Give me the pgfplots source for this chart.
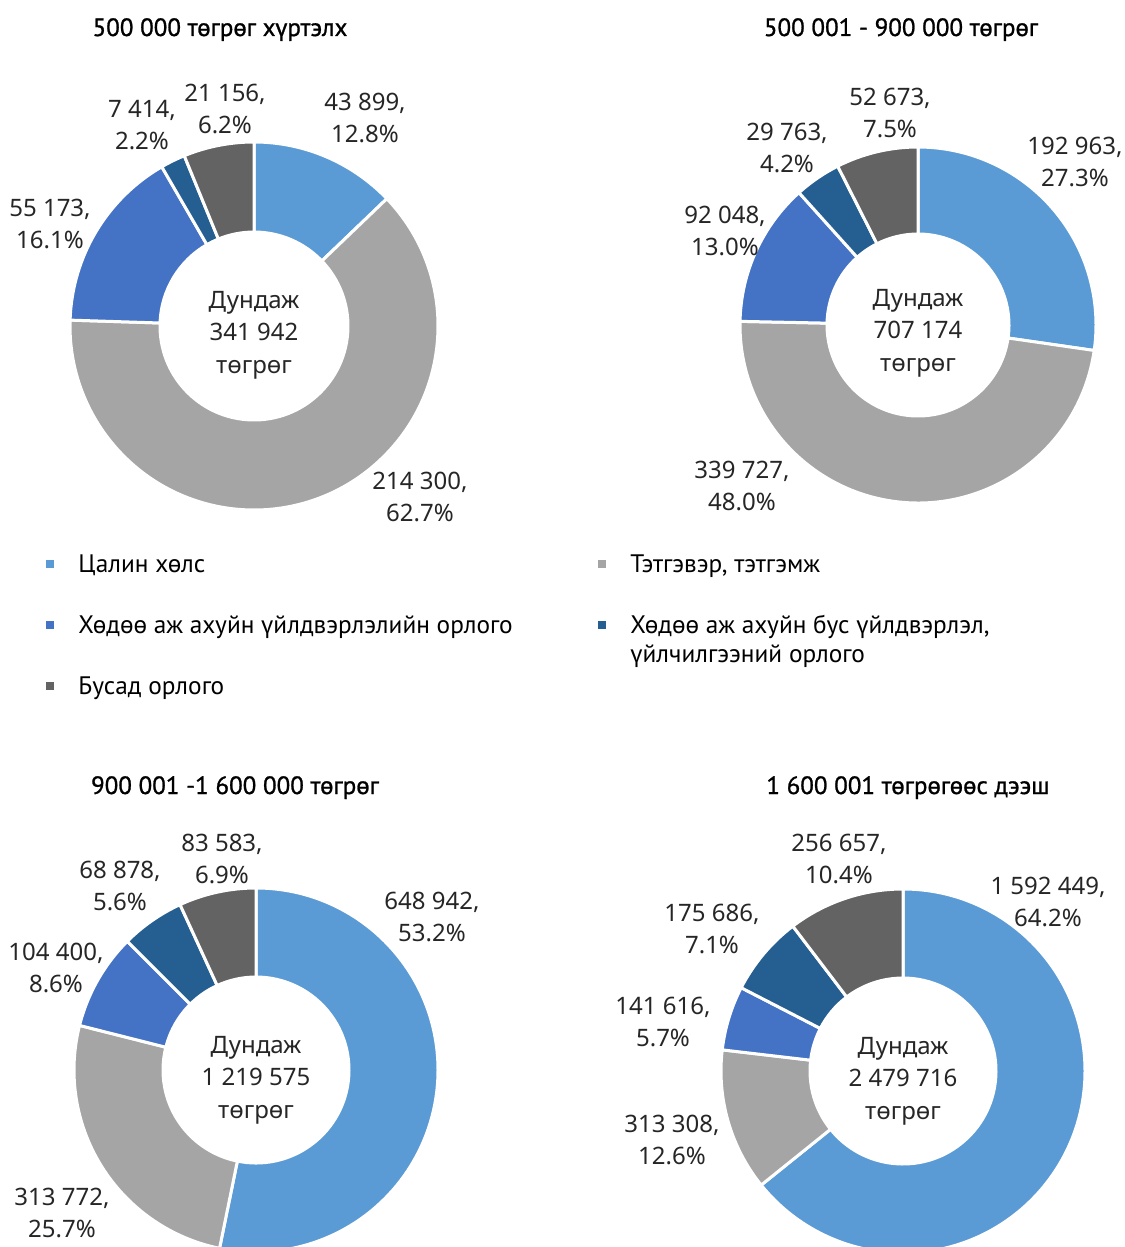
\documentclass[border=0pt]{standalone}
\usepackage{pgfplots}
\pgfplotsset{compat=1.18}
\usepackage{pgfplotstable}
\usepackage{fontspec}
\setmainfont{Noto Sans}
\newfontfamily\legfont{PT Sans}
\newfontfamily\titfont{PT Sans}[FakeBold=1]

\definecolor{seg0}{HTML}{5B9BD5}
\definecolor{seg1}{HTML}{A5A5A5}
\definecolor{seg2}{HTML}{4472C4}
\definecolor{seg3}{HTML}{255E91}
\definecolor{seg4}{HTML}{636363}
\definecolor{txt}{HTML}{262626}

\pgfkeys{/pgf/number format/.cd, fixed, precision=0, 1000 sep={\ }, assume math mode=true}

% columns: value, share (%), label x, label y (pixel positions)
\pgfplotstableread{
val pct lx ly
43899 12.8 365 118
214300 62.7 420 497
55173 16.1 50 224
7414 2.2 142 125
21156 6.2 225 109
}\tabA
\pgfplotstableread{
val pct lx ly
192963 27.3 1075 162
339727 48.0 742 486
92048 13.0 725 231
29763 4.2 787 148
52673 7.5 890 113
}\tabB
\pgfplotstableread{
val pct lx ly
648942 53.2 432 917
313772 25.7 62 1213
104400 8.6 56 968
68878 5.6 120 886
83583 6.9 222 859
}\tabC
\pgfplotstableread{
val pct lx ly
1592449 64.2 1048 902
313308 12.6 672 1140
141616 5.7 663 1022
175686 7.1 712 929
256657 10.4 839 859
}\tabD

\tikzset{
  lab/.style={font=\fontsize{12}{16.2}\selectfont, align=center, text=txt, inner sep=0pt},
  tit/.style={font=\titfont\fontsize{12.5}{15}\selectfont, text=black, anchor=base, inner sep=0pt},
  leg/.style={font=\legfont\fontsize{12.65}{15}\selectfont, text=black, anchor=base west, inner sep=0pt},
}

% #1 table, #2 cx, #3 cy, #4 outer r (px), #5 inner r (px), #6 y of centre text
\newcommand\donut[6]{%
  \def\dtot{0}%
  \pgfplotsforeachungrouped \i in {0,...,4}{%
    \pgfplotstablegetelem{\i}{val}\of{#1}%
    \edef\dtot{\fpeval{\dtot+\pgfplotsretval}}%
  }%
  \def\dcum{0}%
  \edef\ro{\fpeval{#4*0.5}}%
  \edef\ri{\fpeval{#5*0.5}}%
  \pgfplotsforeachungrouped \i in {0,...,4}{%
    \pgfplotstablegetelem{\i}{val}\of{#1}\edef\dval{\pgfplotsretval}%
    \pgfplotstablegetelem{\i}{pct}\of{#1}\edef\dpct{\pgfplotsretval}%
    \pgfplotstablegetelem{\i}{lx}\of{#1}\edef\dlx{\pgfplotsretval}%
    \pgfplotstablegetelem{\i}{ly}\of{#1}\edef\dly{\pgfplotsretval}%
    \edef\ta{\fpeval{90-360*\dcum/\dtot}}%
    \edef\dcum{\fpeval{\dcum+\dval}}%
    \edef\tb{\fpeval{90-360*\dcum/\dtot}}%
    \edef\cmd{\noexpand\filldraw[fill=seg\i,draw=white,line width=1.5pt,line join=round]
      ([shift={(\ta:\ro pt)}]axis cs:#2,#3) arc[start angle=\ta,end angle=\tb,radius=\ro pt]
      -- ([shift={(\tb:\ri pt)}]axis cs:#2,#3) arc[start angle=\tb,end angle=\ta,radius=\ri pt] -- cycle;
      \noexpand\node[lab] at (axis cs:\dlx,\dly) {\noexpand\pgfmathprintnumber{\dval},\noexpand\\\dpct\noexpand\%};}%
    \cmd
  }%
  \edef\cmd{\noexpand\node[lab] at (axis cs:#2,#6) {Дундаж\noexpand\\\noexpand\pgfmathprintnumber{\dtot}\noexpand\\төгрөг};}%
  \cmd
}

\begin{document}
\begin{tikzpicture}
\begin{axis}[x=0.5pt, y=0.5pt, xmin=0, xmax=1124, ymin=0, ymax=1247,
  y dir=reverse, hide axis, scale only axis, clip=true]
\path (axis cs:0,0) (axis cs:1124,1247);
\donut{\tabA}{254}{326}{184}{94}{335}
\donut{\tabB}{918}{325}{178}{91}{333}
\donut{\tabC}{256}{1070}{182}{93}{1080}
\donut{\tabD}{903}{1071}{182}{93}{1081}

\node[tit] at (axis cs:220,36) {500 000 төгрөг хүртэлх};
\node[tit] at (axis cs:901,36) {500 001 - 900 000 төгрөг};
\node[tit] at (axis cs:235,794) {900 001 -1 600 000 төгрөг};
\node[tit] at (axis cs:908,794) {1 600 001 төгрөгөөс дээш};

\fill[seg0] (axis cs:46,560) rectangle (axis cs:54,568);
\node[leg] at (axis cs:78,572) {Цалин хөлс};
\fill[seg2] (axis cs:46,621) rectangle (axis cs:54,629);
\node[leg] at (axis cs:78,633) {Хөдөө аж ахуйн үйлдвэрлэлийн орлого};
\fill[seg4] (axis cs:46,682) rectangle (axis cs:54,690);
\node[leg] at (axis cs:78,694) {Бусад орлого};
\fill[seg1] (axis cs:598,560) rectangle (axis cs:606,568);
\node[leg] at (axis cs:630,572) {Тэтгэвэр, тэтгэмж};
\fill[seg3] (axis cs:598,621) rectangle (axis cs:606,629);
\node[leg] at (axis cs:630,633) {Хөдөө аж ахуйн бус үйлдвэрлэл,};
\node[leg] at (axis cs:630,662) {үйлчилгээний орлого};
\end{axis}
\end{tikzpicture}
\end{document}
